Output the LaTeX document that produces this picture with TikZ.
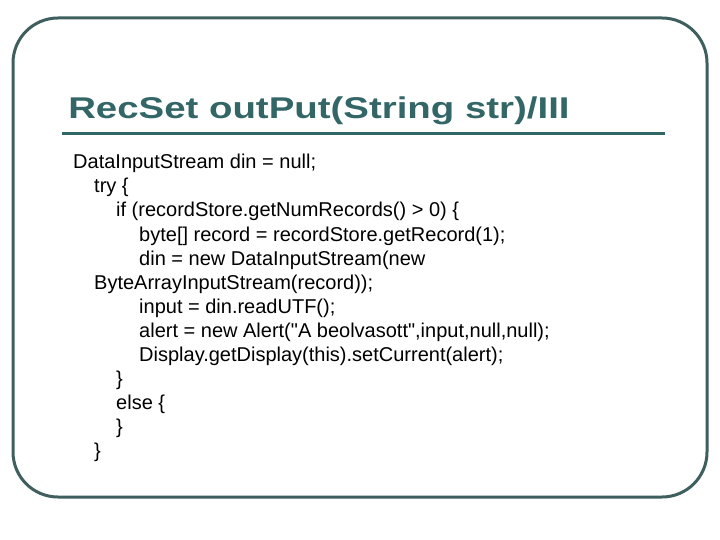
\documentclass[tikz,border=0pt]{standalone}
\usepackage{fontspec}
\setmainfont{Liberation Sans}
\definecolor{frame}{HTML}{3F5F5F}
\definecolor{ttl}{HTML}{336666}
\begin{document}
\begin{tikzpicture}[x=1pt,y=-1pt,
  code/.style={anchor=base west,inner sep=0pt,font=\fontsize{20}{24}\selectfont}]
\useasboundingbox (0,0) rectangle (720,540);
\draw[frame,line width=3pt,rounded corners=45pt] (13,18) rectangle (707,497);
\node[anchor=base west,inner sep=0pt,text=ttl,xscale=1.28,font=\bfseries\fontsize{30}{36}\selectfont] (title) at (68,119) {RecSet outPut(String str)/III};
\draw[ttl,line width=3pt] (62,134) -- (665,134);
\foreach \t/\x [count=\i] in {
 {DataInputStream din = null;}/73,
 {try \{}/94,
 {if (recordStore.getNumRecords() > 0) \{}/116,
 {byte[] record = recordStore.getRecord(1);}/139,
 {din = new DataInputStream(new}/139,
 {ByteArrayInputStream(record));}/94,
 {input = din.readUTF();}/139,
 {alert = new Alert(\textquotedbl A beolvasott\textquotedbl,input,null,null);}/139,
 {Display.getDisplay(this).setCurrent(alert);}/139,
 {\}}/116,
 {else \{}/116,
 {\}}/116,
 {\}}/94}
 \node[code] (l\i) at (\x,{145+24*\i}) {\t};
\end{tikzpicture}
\end{document}
